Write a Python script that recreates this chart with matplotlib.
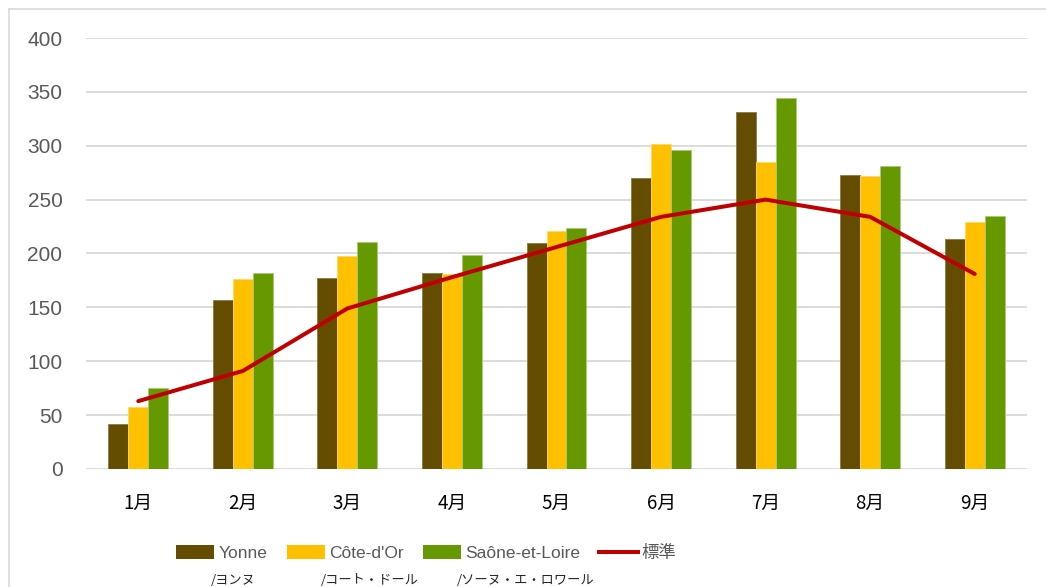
import matplotlib
matplotlib.use("Agg")
import matplotlib.pyplot as plt
from matplotlib.lines import Line2D
from matplotlib.patches import Patch
import numpy as np

months = ["1月", "2月", "3月", "4月", "5月", "6月", "7月", "8月", "9月"]
yonne = [42, 157, 177, 182, 210, 270, 331, 273, 213]
cote_dor = [58, 176, 198, 181, 221, 302, 285, 272, 229]
saone = [75, 182, 211, 199, 224, 296, 344, 281, 235]
standard = [63, 91, 149, 178, 206, 234, 250, 234, 181]

series_names = ["Yonne", "Côte-d'Or", "Saône-et-Loire", "標準"]
series_kana = ["/ヨンヌ", "/コート・ドール", "/ソーヌ・エ・ロワール"]

colors = ["#654D00", "#FFC000", "#669900"]
edges = ["#8A7A4A", "#FFD966", "#A9C97A"]
line_color = "#C00000"
grid_color = "#D9D9D9"
tick_color = "#595959"

W, H = 1046, 587
fig = plt.figure(figsize=(W / 100, H / 100), dpi=100)
ax = fig.add_axes([86 / W, (H - 469) / H, (1027 - 86) / W, (469 - 38) / H])

x = np.arange(len(months))
bw = 0.191
for k, (vals, c, ec) in enumerate(zip([yonne, cote_dor, saone], colors, edges)):
    ax.bar(x + (k - 1) * bw, vals, width=bw, color=c, edgecolor=ec,
           linewidth=0.6, zorder=2)

ax.plot(x, standard, color=line_color, lw=2.9, solid_joinstyle="round",
        solid_capstyle="round", zorder=3)

ax.set_xlim(-0.5, len(months) - 0.5)
ax.set_ylim(0, 400)
ax.set_yticks(range(0, 401, 50))
ax.yaxis.grid(True, color=grid_color, lw=1.3, zorder=0)
ax.set_axisbelow(True)
for s in ax.spines.values():
    s.set_visible(False)
ax.tick_params(axis="both", length=0)
ax.tick_params(axis="y", pad=17, labelsize=15, labelcolor=tick_color)
ax.tick_params(axis="x", pad=17)
ax.set_xticks(x)
ax.set_xticklabels(months, fontsize=13.5, color="black",
                   family=["Noto Sans CJK JP", "DejaVu Sans"])
for t in ax.get_yticklabels():
    t.set_family(["Liberation Sans", "DejaVu Sans"])

# outer chart frame (top and left edges visible)
fig.add_artist(Line2D([9 / W, 1], [1 - 9 / H, 1 - 9 / H], color=grid_color, lw=1.2))
fig.add_artist(Line2D([9 / W, 9 / W], [0, 1 - 9 / H], color=grid_color, lw=1.2))

handles = [Patch(facecolor=c) for c in colors]
handles.append(Line2D([0], [0], color=line_color, lw=2.9))
leg = fig.legend(handles, series_names, loc="center left", ncol=4,
                 bbox_to_anchor=(176 / W, 1 - 553 / H), frameon=False,
                 prop={"family": ["Liberation Sans", "Noto Sans CJK JP"],
                       "size": 12.5},
                 handlelength=2.2, handleheight=0.85, handletextpad=0.25,
                 columnspacing=1.1, borderpad=0, borderaxespad=0)
for t in leg.get_texts():
    t.set_color(tick_color)

# katakana reading under each region name
fig.canvas.draw()
renderer = fig.canvas.get_renderer()
for t, kana in zip(leg.get_texts()[:3], series_kana):
    bb = t.get_window_extent(renderer)
    fig.text((bb.x0 - 8) / W, 1 - 580 / H, kana, fontsize=9.5, color="#262626",
             va="center", ha="left", family=["Noto Sans CJK JP", "DejaVu Sans"])

fig.savefig("out.png", dpi=100)
